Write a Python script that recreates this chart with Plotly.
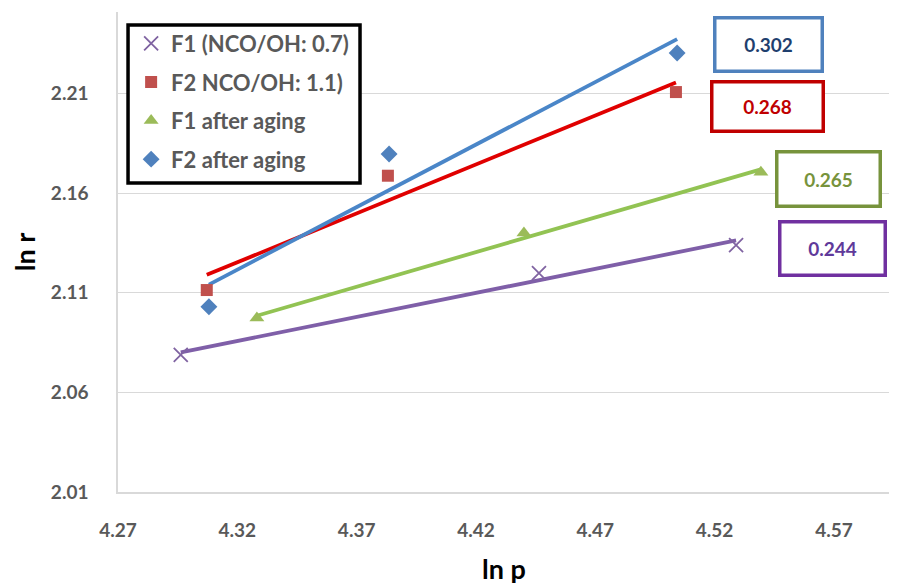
import numpy as np
import plotly.graph_objects as go

# data (ln p, ln r)
f1_x = [4.2963, 4.4464, 4.5290]
f1_y = [2.0788, 2.1199, 2.1340]
f2_x = [4.3072, 4.3831, 4.5038]
f2_y = [2.1114, 2.1688, 2.2108]
f1a_x = [4.3282, 4.4401, 4.5394]
f1a_y = [2.0973, 2.1400, 2.1706]
f2a_x = [4.3081, 4.3836, 4.5043]
f2a_y = [2.1030, 2.1797, 2.2304]

names = ["F1 (NCO/OH: 0.7)", "F2 NCO/OH: 1.1)", "F1 after aging", "F2 after aging"]
slopes_text = ["0.302", "0.268", "0.265", "0.244"]
x_ticks = [4.27, 4.32, 4.37, 4.42, 4.47, 4.52, 4.57]
y_ticks = [2.01, 2.06, 2.11, 2.16, 2.21]

series = [
    (f1_x, f1_y, names[0], "x-thin", "#8064A2", "#7F5FA8", 14),
    (f2_x, f2_y, names[1], "square", "#C0504D", "#E00000", 12),
    (f1a_x, f1a_y, names[2], "triangle-up", "#9BBB59", "#92C353", 13),
    (f2a_x, f2a_y, names[3], "diamond", "#4F81BD", "#4A86C8", 13),
]

fig = go.Figure()

# trendlines (least-squares fit of each series)
for i, (xs, ys, nm, sym, mc, lc, ms) in enumerate(series):
    xs_a = np.array(xs)
    k, b = np.polyfit(xs_a, np.array(ys), 1)
    xl = np.array([xs_a.min(), xs_a.max()])
    fig.add_trace(go.Scatter(x=xl, y=k * xl + b, mode="lines",
                             line=dict(color=lc, width=3.8), legendgroup=f"g{i}",
                             showlegend=False, hoverinfo="skip"))

for i, (xs, ys, nm, sym, mc, lc, ms) in enumerate(series):
    marker = dict(symbol=sym, size=ms, color=mc)
    if sym == "x-thin":
        marker["line"] = dict(color=mc, width=1.8)
    fig.add_trace(go.Scatter(x=xs, y=ys, mode="markers", name=nm,
                             marker=marker, legendgroup=f"g{i}"))

box_specs = [
    (slopes_text[0], 0.842, 0.933, "#4F81BD", "#1F3F6E", 104, 50),
    (slopes_text[1], 0.841, 0.804, "#C00000", "#C00000", 108, 46),
    (slopes_text[2], 0.920, 0.652, "#77933C", "#77933C", 100, 51),
    (slopes_text[3], 0.925, 0.508, "#7030A0", "#60399A", 102, 50),
]
for txt, px, py, bc, tc, w, h in box_specs:
    fig.add_annotation(xref="paper", yref="paper", x=px, y=py,
                       xanchor="center", yanchor="middle", text=f"<b>{txt}</b>",
                       showarrow=False, font=dict(family="Lato", size=19, color=tc),
                       bordercolor=bc, borderwidth=3.5, bgcolor="white",
                       width=w, height=h, borderpad=0)

# frame of the legend
fig.add_shape(type="rect", xref="paper", yref="paper",
              x0=0.013, x1=0.3135, y0=0.644, y1=0.973,
              line=dict(color="black", width=3.5), fillcolor="white", layer="above")

# page body has an 8px margin, so the figure is sized to fill the rest of the window
fig.update_layout(
    width=889, height=577,
    margin=dict(l=110, r=7, t=4, b=93),
    plot_bgcolor="white", paper_bgcolor="white",
    font=dict(family="Lato", color="#595959"),
    showlegend=True,
    legend=dict(x=0.017, y=0.978, xanchor="left", yanchor="top",
                borderwidth=0, bgcolor="rgba(0,0,0,0)",
                font=dict(family="Lato", size=22, color="#595959", weight="bold"),
                tracegroupgap=7, traceorder="grouped",
                itemwidth=30),
    xaxis=dict(range=[4.27, 4.5935], tickvals=x_ticks, ticktext=[f"{v:.2f}" for v in x_ticks],
               showgrid=False, showline=True, linecolor="#D9D9D9", linewidth=1.5,
               ticks="", zeroline=False, automargin=False,
               tickfont=dict(family="Lato", size=19, color="#595959", weight="bold"),
               ticklabelstandoff=20,
               title=dict(text="<b>ln p</b>", font=dict(family="Lato", size=27, color="black"),
                          standoff=26)),
    yaxis=dict(range=[2.01, 2.251], tickvals=y_ticks, ticktext=[f"{v:.2f}" for v in y_ticks],
               showgrid=True, gridcolor="#D9D9D9", gridwidth=1.2,
               showline=True, linecolor="#D9D9D9", linewidth=1.5,
               ticks="", zeroline=False, automargin=False,
               tickfont=dict(family="Lato", size=19, color="#595959", weight="bold"),
               ticklabelstandoff=24,
               title=dict(text="<b>ln r</b>", font=dict(family="Lato", size=27, color="black"),
                          standoff=20)),
)

fig.write_html("out.html")
